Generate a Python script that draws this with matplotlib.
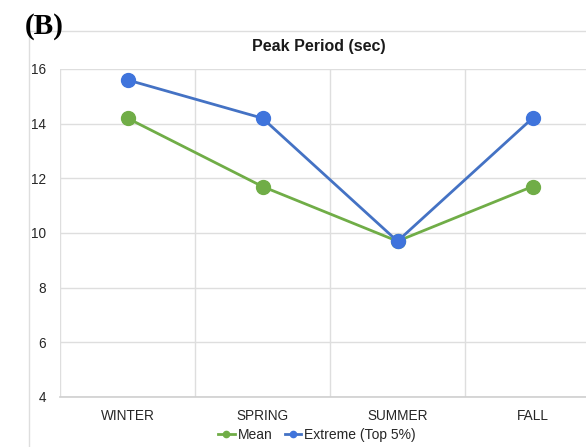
import numpy as np
import matplotlib
matplotlib.use('Agg')
import matplotlib.pyplot as plt
import matplotlib.patches as mpatches

# data
seasons = ['WINTER', 'SPRING', 'SUMMER', 'FALL']
mean_period = [14.2, 11.7, 9.7, 11.7]
extreme_period = [15.6, 14.2, 9.7, 14.2]
yticks = [4, 6, 8, 10, 12, 14, 16]

green = '#70ad47'
blue = '#4472c4'
grid_c = '#dedede'

plt.rcParams['font.family'] = ['Liberation Sans', 'DejaVu Sans']

W, H = 586, 447
fig = plt.figure(figsize=(W / 100, H / 100), dpi=100)

# outer chart frame (cut off on right/bottom like the original)
frame = mpatches.Rectangle((29 / W, -0.1), 1.0, (H - 31) / H + 0.1,
                           transform=fig.transFigure, facecolor='none',
                           edgecolor=grid_c, linewidth=1.0)
fig.patches.append(frame)

# plot area in pixels: left 60, right 600, top 69, bottom 397
ax = fig.add_axes([60 / W, (H - 397) / H, 540 / W, 328 / H])
x = np.arange(len(seasons))

ax.plot(x, mean_period, color=green, lw=2, marker='o', ms=10,
        markerfacecolor=green, markeredgecolor=green, label='Mean', zorder=3)
ax.plot(x, extreme_period, color=blue, lw=2, marker='o', ms=10,
        markerfacecolor='#3f74dc', markeredgecolor='#3f74dc',
        label='Extreme (Top 5%)', zorder=3)

ax.set_xlim(-0.5, len(seasons) - 0.5)
ax.set_ylim(4, 16)
ax.set_yticks(yticks)
ax.set_xticks(x)
ax.set_xticklabels(seasons)
ax.set_xticks(np.arange(-0.5, len(seasons), 1.0), minor=True)

ax.grid(True, axis='y', color=grid_c, lw=1)
ax.grid(True, axis='x', which='minor', color=grid_c, lw=1)
ax.grid(False, axis='x', which='major')
ax.set_axisbelow(True)
for s in ['top', 'right', 'left']:
    ax.spines[s].set_visible(False)
ax.spines['bottom'].set_color('#cfcfcf')
ax.spines['bottom'].set_linewidth(1.2)

ax.tick_params(axis='both', which='both', length=0, labelsize=9.8, colors='#262626')
ax.tick_params(axis='y', pad=10)
ax.tick_params(axis='x', pad=9)

fig.text(319 / W, 1 - 47 / H, 'Peak Period (sec)', ha='center', va='center',
         fontsize=11.5, fontweight='bold', color='#1a1a1a')

fig.text(25 / W, 1 - 26 / H, '(B)', ha='left', va='center', fontsize=21,
         fontweight='bold', family=['Liberation Serif', 'DejaVu Serif'])

fig.legend(loc='center', bbox_to_anchor=(317 / W, 1 - 435 / H), ncol=2,
           frameon=False, fontsize=10, handlelength=1.2, handletextpad=0.2,
           columnspacing=0.9, markerscale=0.45, labelcolor='#262626')

fig.savefig('out.png', dpi=100)
